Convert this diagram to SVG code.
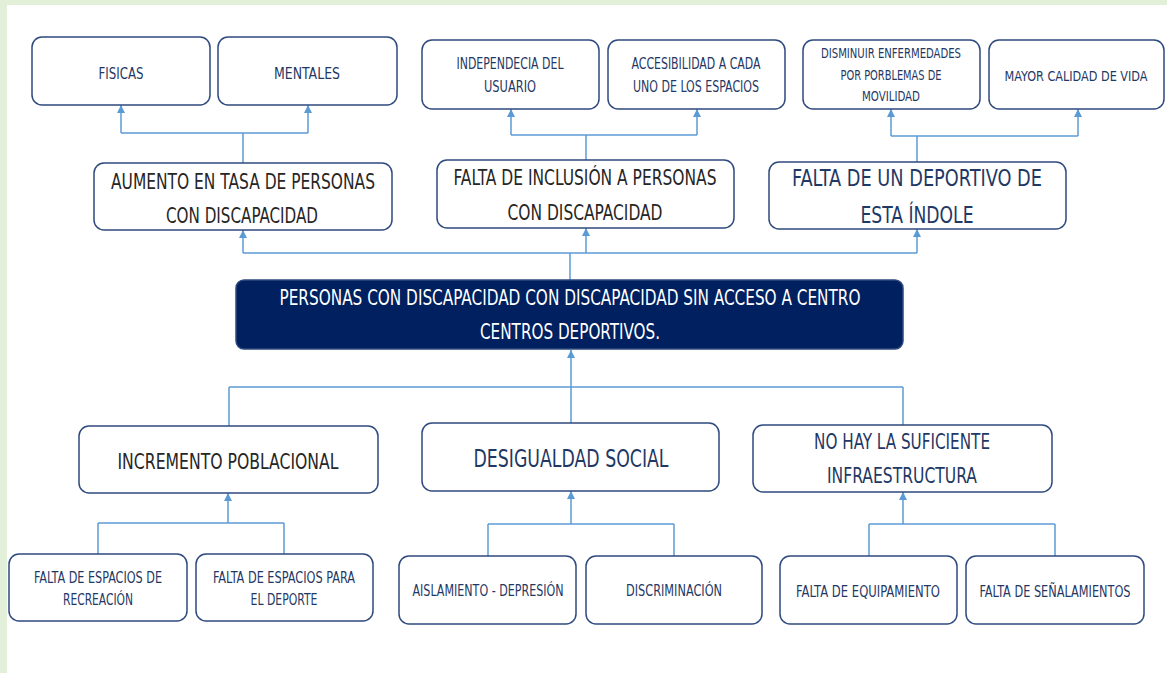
<svg xmlns="http://www.w3.org/2000/svg" width="1167" height="673" viewBox="0 0 1167 673">
<style>
  text { font-family: "Liberation Sans Narrow", "DejaVu Sans Condensed", "Liberation Sans", sans-serif; text-anchor: middle; }
  .box { fill: #ffffff; stroke: #2f4a7e; stroke-width: 1.5; }
  .core { fill: #002060; stroke: #2f4a7e; stroke-width: 1.5; }
  .s { font-size: 15px; fill: #1f3864; }
  .m { font-size: 21px; fill: #262626; }
  .mn { font-size: 22px; fill: #1f3864; }
  .w { font-size: 21px; fill: #ffffff; }
  .c line { stroke: #5b9bd5; stroke-width: 1.5; fill: none; }
  .c .a { marker-end: url(#arr); }
</style>
<defs>
  <marker id="arr" viewBox="0 0 10 10" refX="10" refY="5" markerWidth="11" markerHeight="8" markerUnits="userSpaceOnUse" orient="auto">
    <path d="M0,0 L10,5 L0,10 z" fill="#5b9bd5"/>
  </marker>
</defs>
<rect x="0" y="0" width="1167" height="673" fill="#ffffff"/>
<rect x="0" y="0" width="1167" height="5" fill="#e2efd9"/>
<rect x="0" y="0" width="7" height="673" fill="#e2efd9"/>

<g id="connectors" class="c">
  <line x1="243" y1="163" x2="243" y2="133"/>
  <line x1="121" y1="133" x2="308" y2="133"/>
  <line class="a" x1="121" y1="133" x2="121" y2="105"/>
  <line class="a" x1="308" y1="133" x2="308" y2="105"/>

  <line x1="586" y1="160" x2="586" y2="135"/>
  <line x1="511" y1="135" x2="697" y2="135"/>
  <line class="a" x1="511" y1="135" x2="511" y2="109"/>
  <line class="a" x1="697" y1="135" x2="697" y2="109"/>

  <line x1="917" y1="162" x2="917" y2="136"/>
  <line x1="891" y1="136" x2="1078" y2="136"/>
  <line class="a" x1="891" y1="136" x2="891" y2="109"/>
  <line class="a" x1="1078" y1="136" x2="1078" y2="109"/>

  <line x1="570" y1="280" x2="570" y2="253"/>
  <line x1="243" y1="253" x2="917" y2="253"/>
  <line class="a" x1="243" y1="253" x2="243" y2="230"/>
  <line class="a" x1="586" y1="253" x2="586" y2="228"/>
  <line class="a" x1="917" y1="253" x2="917" y2="229"/>

  <line x1="229" y1="387" x2="903" y2="387"/>
  <line x1="229" y1="387" x2="229" y2="426"/>
  <line x1="903" y1="387" x2="903" y2="425"/>
  <line class="a" x1="571" y1="423" x2="571" y2="350"/>

  <line class="a" x1="228" y1="523" x2="228" y2="493"/>
  <line x1="98" y1="523" x2="284" y2="523"/>
  <line x1="98" y1="523" x2="98" y2="554"/>
  <line x1="284" y1="523" x2="284" y2="554"/>

  <line class="a" x1="571" y1="524" x2="571" y2="491"/>
  <line x1="488" y1="524" x2="674" y2="524"/>
  <line x1="488" y1="524" x2="488" y2="556"/>
  <line x1="674" y1="524" x2="674" y2="556"/>

  <line class="a" x1="903" y1="524" x2="903" y2="492"/>
  <line x1="869" y1="524" x2="1055" y2="524"/>
  <line x1="869" y1="524" x2="869" y2="556"/>
  <line x1="1055" y1="524" x2="1055" y2="556"/>
</g>

<g id="fisicas">
  <rect class="box" x="32" y="37" width="178" height="68" rx="10"/>
  <text class="s" x="121" y="79" textLength="45" lengthAdjust="spacingAndGlyphs">FISICAS</text>
</g>
<g id="mentales">
  <rect class="box" x="218" y="37" width="179" height="68" rx="10"/>
  <text class="s" x="307" y="79" textLength="66" lengthAdjust="spacingAndGlyphs">MENTALES</text>
</g>
<g id="independencia">
  <rect class="box" x="422" y="40" width="177" height="69" rx="10"/>
  <text class="s" x="510" y="69" textLength="107" lengthAdjust="spacingAndGlyphs">INDEPENDECIA DEL</text>
  <text class="s" x="510" y="92" textLength="52" lengthAdjust="spacingAndGlyphs">USUARIO</text>
</g>
<g id="accesibilidad">
  <rect class="box" x="608" y="40" width="177" height="69" rx="10"/>
  <text class="s" x="696" y="69" textLength="129" lengthAdjust="spacingAndGlyphs">ACCESIBILIDAD A CADA</text>
  <text class="s" x="696" y="92" textLength="126" lengthAdjust="spacingAndGlyphs">UNO DE LOS ESPACIOS</text>
</g>
<g id="disminuir">
  <rect class="box" x="803" y="40" width="177" height="69" rx="10"/>
  <text class="s" x="891" y="58" textLength="140" lengthAdjust="spacingAndGlyphs" style="font-size:14px">DISMINUIR ENFERMEDADES</text>
  <text class="s" x="891" y="80" textLength="101" lengthAdjust="spacingAndGlyphs" style="font-size:14px">POR PORBLEMAS DE</text>
  <text class="s" x="891" y="101" textLength="58" lengthAdjust="spacingAndGlyphs" style="font-size:14px">MOVILIDAD</text>
</g>
<g id="mayor-calidad">
  <rect class="box" x="989" y="40" width="175" height="69" rx="10"/>
  <text class="s" x="1076" y="81" textLength="143" lengthAdjust="spacingAndGlyphs" style="font-size:14px">MAYOR CALIDAD DE VIDA</text>
</g>

<g id="aumento">
  <rect class="box" x="94" y="163" width="298" height="67" rx="10"/>
  <text class="m" x="243" y="189" textLength="264" lengthAdjust="spacingAndGlyphs">AUMENTO EN TASA DE PERSONAS</text>
  <text class="m" x="242" y="223" textLength="152" lengthAdjust="spacingAndGlyphs">CON DISCAPACIDAD</text>
</g>
<g id="falta-inclusion">
  <rect class="box" x="437" y="160" width="297" height="68" rx="10"/>
  <text class="m" x="585" y="185" textLength="263" lengthAdjust="spacingAndGlyphs">FALTA DE INCLUSIÓN A PERSONAS</text>
  <text class="m" x="585" y="220" textLength="155" lengthAdjust="spacingAndGlyphs">CON DISCAPACIDAD</text>
</g>
<g id="falta-deportivo">
  <rect class="box" x="769" y="162" width="297" height="67" rx="10"/>
  <text class="mn" x="917" y="186" textLength="250" lengthAdjust="spacingAndGlyphs" style="font-size:23px">FALTA DE UN DEPORTIVO DE</text>
  <text class="mn" x="917" y="223" textLength="113" lengthAdjust="spacingAndGlyphs" style="font-size:23px">ESTA ÍNDOLE</text>
</g>

<g id="problema-central">
  <rect class="core" x="236" y="280" width="667" height="69" rx="8"/>
  <text class="w" x="570" y="305" textLength="581" lengthAdjust="spacingAndGlyphs">PERSONAS CON DISCAPACIDAD CON DISCAPACIDAD SIN ACCESO A CENTRO</text>
  <text class="w" x="570" y="339" textLength="180" lengthAdjust="spacingAndGlyphs">CENTROS DEPORTIVOS.</text>
</g>

<g id="incremento">
  <rect class="box" x="79" y="426" width="299" height="67" rx="10"/>
  <text class="m" x="228" y="469" textLength="221" lengthAdjust="spacingAndGlyphs" style="font-size:22px">INCREMENTO POBLACIONAL</text>
</g>
<g id="desigualdad">
  <rect class="box" x="422" y="423" width="297" height="68" rx="10"/>
  <text class="mn" x="571" y="467" textLength="195" lengthAdjust="spacingAndGlyphs" style="font-size:24px">DESIGUALDAD SOCIAL</text>
</g>
<g id="infraestructura">
  <rect class="box" x="753" y="425" width="299" height="67" rx="10"/>
  <text class="mn" x="902" y="449" textLength="176" lengthAdjust="spacingAndGlyphs" style="font-size:21px">NO HAY LA SUFICIENTE</text>
  <text class="mn" x="902" y="483" textLength="150" lengthAdjust="spacingAndGlyphs" style="font-size:21px">INFRAESTRUCTURA</text>
</g>

<g id="recreacion">
  <rect class="box" x="9" y="554" width="178" height="67" rx="10"/>
  <text class="s" x="98" y="583" textLength="128" lengthAdjust="spacingAndGlyphs">FALTA DE ESPACIOS DE</text>
  <text class="s" x="98" y="605" textLength="70" lengthAdjust="spacingAndGlyphs">RECREACIÓN</text>
</g>
<g id="deporte">
  <rect class="box" x="196" y="554" width="177" height="67" rx="10"/>
  <text class="s" x="284" y="583" textLength="142" lengthAdjust="spacingAndGlyphs">FALTA DE ESPACIOS PARA</text>
  <text class="s" x="284" y="605" textLength="67" lengthAdjust="spacingAndGlyphs">EL DEPORTE</text>
</g>
<g id="aislamiento">
  <rect class="box" x="399" y="556" width="177" height="68" rx="10"/>
  <text class="s" x="488" y="596" textLength="151" lengthAdjust="spacingAndGlyphs">AISLAMIENTO - DEPRESIÓN</text>
</g>
<g id="discriminacion">
  <rect class="box" x="586" y="556" width="176" height="68" rx="10"/>
  <text class="s" x="674" y="596" textLength="96" lengthAdjust="spacingAndGlyphs">DISCRIMINACIÓN</text>
</g>
<g id="equipamiento">
  <rect class="box" x="780" y="556" width="177" height="68" rx="10"/>
  <text class="s" x="868" y="597" textLength="144" lengthAdjust="spacingAndGlyphs">FALTA DE EQUIPAMIENTO</text>
</g>
<g id="senalamientos">
  <rect class="box" x="966" y="556" width="178" height="68" rx="10"/>
  <text class="s" x="1055" y="597" textLength="151" lengthAdjust="spacingAndGlyphs">FALTA DE SEÑALAMIENTOS</text>
</g>
</svg>
